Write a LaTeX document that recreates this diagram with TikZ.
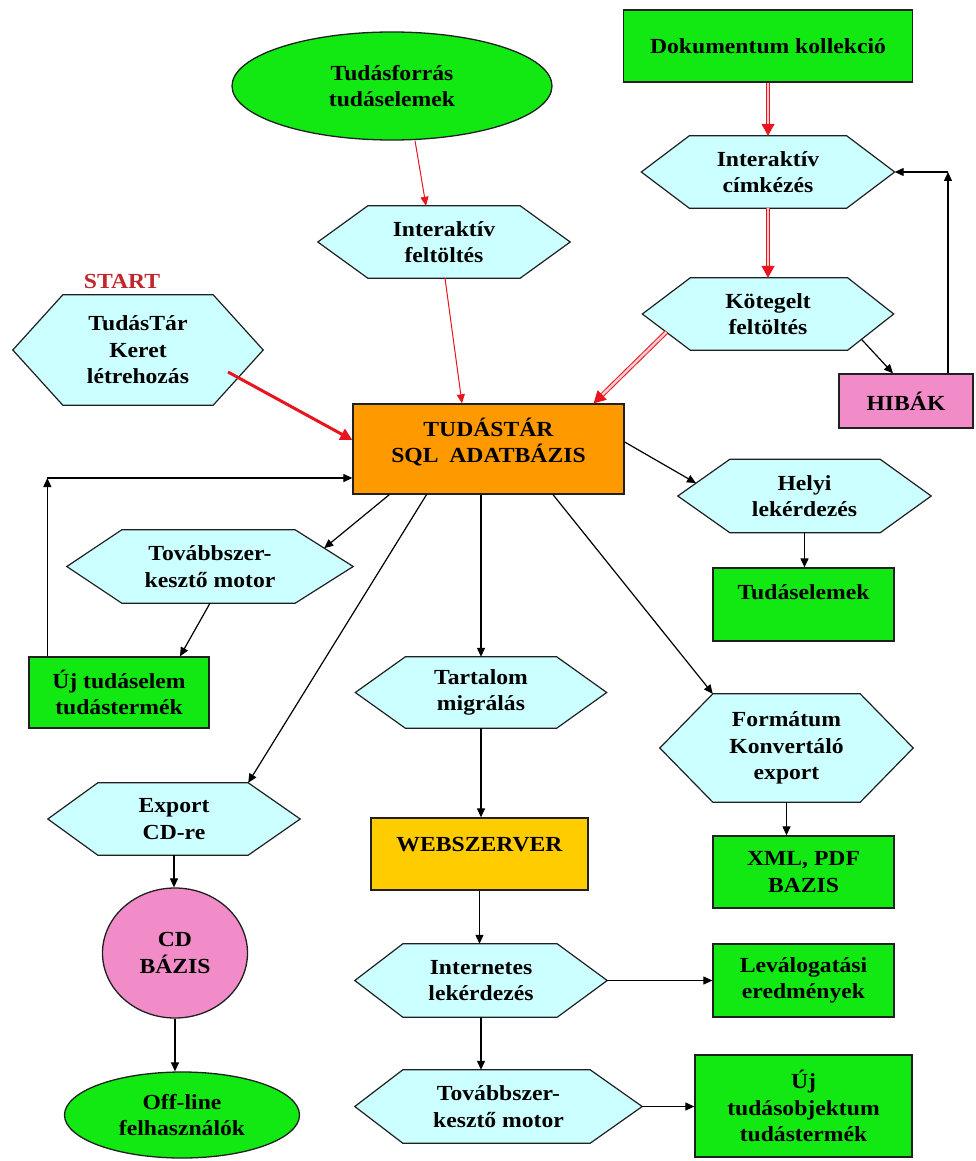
\documentclass[tikz,border=0pt]{standalone}
\usepackage{fontspec}
\setmainfont{Liberation Serif}[FakeStretch=1.1]
\usetikzlibrary{arrows.meta,shapes.geometric,calc,backgrounds}

\definecolor{hexfill}{HTML}{CCFFFF}
\definecolor{boxgreen}{HTML}{12E812}
\definecolor{dborange}{HTML}{FF9900}
\definecolor{webgold}{HTML}{FFCC00}
\definecolor{errpink}{HTML}{F28CC8}
\definecolor{flowred}{HTML}{E8141E}
\definecolor{startred}{HTML}{C0262C}
\definecolor{edgegray}{HTML}{202020}

\tikzset{
  lbl/.style={font=\bfseries\fontsize{21.5}{26.5}\selectfont, align=center, inner sep=0pt, text=black},
  hextext/.style={lbl, rectangle},
  hexshape/.style={draw=edgegray, line width=1.2pt, fill=hexfill, line join=miter},
  box/.style={lbl, rectangle, draw=edgegray, line width=1.3pt},
  oval/.style={lbl, ellipse, draw=edgegray, line width=1.3pt},
  flow/.style={draw=black, line width=1.2pt, -{Triangle[length=9pt,width=8pt]}},
  redthin/.style={draw=flowred, line width=1pt, -{Triangle[length=9pt,width=8pt]}},
  redthick/.style={draw=flowred, line width=3pt, -{Triangle[length=12pt,width=12pt]}},
  reddouble/.style={draw=flowred, double=flowred!22, double distance=2.5pt, line width=1pt, -{Triangle[length=12pt,width=13pt]}},
}

% hexagonal process step: name, x, y, width, height, left inset, right inset, text
\newcommand\hexnode[8]{%
  \node[hextext, minimum width=#4pt, minimum height=#5pt] (#1) at (#2,#3) {#8};
  \coordinate (#1-nw) at ([xshift=#6pt]#1.north west);
  \coordinate (#1-sw) at ([xshift=#6pt]#1.south west);
  \coordinate (#1-ne) at ([xshift=-#7pt]#1.north east);
  \coordinate (#1-se) at ([xshift=-#7pt]#1.south east);
  \begin{scope}[on background layer]
    \draw[hexshape] (#1-nw) -- (#1-ne) -- (#1.east) -- (#1-se) -- (#1-sw) -- (#1.west) -- cycle;
  \end{scope}
}

\begin{document}
\begin{tikzpicture}[x=1pt, y=-1pt]
\begin{scope}[on background layer]
  \path[fill=white] (0,0) rectangle (976,1161);
\end{scope}
\useasboundingbox (0,0) rectangle (976,1161);

% ---- sources ----
\node[oval, fill=boxgreen, minimum width=320pt, minimum height=108pt] (src) at (392,86) {Tudásforrás\\tudáselemek};
\node[box, fill=boxgreen, minimum width=289pt, minimum height=72pt] (doc) at (768,46) {Dokumentum kollekció};
\hexnode{cimke}{768}{172}{253}{72}{48}{48}{Interaktív\\címkézés}
\hexnode{intfel}{444}{242}{252}{72}{50}{50}{Interaktív\\feltöltés}
\hexnode{koteg}{768}{314}{251}{72}{48}{46}{Kötegelt\\feltöltés}
\node[box, fill=errpink, minimum width=134pt, minimum height=54pt] (hibak) at (906,401) {HIBÁK};

\node[lbl, text=startred] (start) at (122,281) {START};
\hexnode{tt}{138}{350}{250}{110}{50}{50}{TudásTár\\Keret\\létrehozás}

% ---- central database ----
\node[box, fill=dborange, minimum width=271pt, minimum height=90pt] (db) at (488.5,449) {};
\node[lbl] (dbtext) at (488.5,442) {TUDÁSTÁR\\SQL\enspace ADATBÁZIS};

% ---- right branch ----
\hexnode{helyi}{804.5}{496}{253}{73}{52}{51}{Helyi\\lekérdezés}
\node[box, fill=boxgreen, minimum width=181pt, minimum height=73pt] (tudel) at (803.5,604.5) {};
\node[lbl] (tudeltext) at (803.5,592) {Tudáselemek};
\hexnode{format}{786.5}{748}{253}{108}{53}{53}{Formátum\\Konvertáló\\export}
\node[box, fill=boxgreen, minimum width=181pt, minimum height=72pt] (xml) at (803.5,872) {XML, PDF\\BAZIS};

% ---- left branch ----
\hexnode{tovabb1}{210}{566.5}{286}{73}{55}{58}{Továbbszer-\\kesztő motor}
\node[box, fill=boxgreen, minimum width=180pt, minimum height=71pt] (ujte) at (119,692.5) {Új tudáselem\\tudástermék};
\hexnode{export}{174}{819}{252}{72}{50}{52}{Export\\CD-re}
\node[oval, fill=errpink, minimum width=145pt, minimum height=130pt] (cd) at (175,953) {CD\\BÁZIS};
\node[oval, fill=boxgreen, minimum width=235pt, minimum height=86pt] (offline) at (182,1115) {Off-line\\felhasználók};

% ---- web branch ----
\hexnode{tartalom}{481}{692.5}{251}{71}{50}{50}{Tartalom\\migrálás}
\node[box, fill=webgold, minimum width=217pt, minimum height=72pt] (web) at (479.5,854) {};
\node[lbl] (webtext) at (479.5,845) {WEBSZERVER};
\hexnode{inet}{481}{980.5}{252}{73}{48}{50}{Internetes\\lekérdezés}
\node[box, fill=boxgreen, minimum width=181pt, minimum height=73pt] (lev) at (803.5,980.5) {Leválogatási\\eredmények};
\hexnode{tovabb2}{498.5}{1106.5}{287}{73}{48}{52}{Továbbszer-\\kesztő motor}
\node[box, fill=boxgreen, minimum width=217pt, minimum height=102pt] (ujto) at (803.5,1106) {Új\\tudásobjektum\\tudástermék};

% ---- helper points for bent and offset connectors ----
\coordinate (fbcorner) at ($(hibak.north)+(42,0)$);
\coordinate (fbtop) at (fbcorner |- cimke.east);
\coordinate (dbin) at ($(db.west)+(0,29)$);
\coordinate (ujtop) at ($(ujte.north west)+(19,0)$);
\coordinate (lpcorner) at (ujtop |- dbin);

% ---- red input flows ----
\draw[redthin] ($(src.south)+(23,0)$) -- ($(intfel.north)+(-18,0)$);
\draw[redthin] ($(intfel.south)+(1,0)$) -- ($(db.north)+(-26.5,0)$);
\draw[reddouble] (doc.south) -- (cimke.north);
\draw[reddouble] (cimke.south) -- (koteg.north);
\draw[reddouble] ($(koteg-sw)!0.5!(koteg.west)$) -- ($(db.north east)+(-31,0)$);
\draw[redthick] ($(tt.center)+(90,22)$) -- ($(db.west)+(0,-9)$);

% ---- error feedback ----
\draw[flow] ($(koteg-se)!0.3!(koteg.east)$) -- ($(hibak.north)+(-13,0)$);
\draw[flow] (fbcorner) -- (fbtop);
\draw[flow] (fbtop) -- (cimke.east);

% ---- outputs of the database ----
\draw[flow] ($(db.east)+(0,-7)$) -- ($(helyi.west)!0.35!(helyi-nw)$);
\draw[flow] (helyi.south) -- (helyi.south |- tudel.north);
\draw[flow] ($(db.south)+(64.5,0)$) -- (format-nw);
\draw[flow] (format.south) -- (format.south |- xml.north);

\draw[flow] ($(db.south west)+(37,0)$) -- ($(tovabb1.east)!0.5!(tovabb1-ne)$);
\draw[flow] (tovabb1.south) -- ($(ujte.north)+(61,0)$);
\draw[flow] (ujtop) -- (lpcorner);
\draw[flow] (lpcorner) -- (dbin);

\draw[flow] ($(db.south)+(-62,0)$) -- (export-ne);
\draw[flow] (export.south) -- (export.south |- cd.north);
\draw[flow] (cd.south) -- (cd.south |- offline.north);

\draw[flow] (tartalom.north |- db.south) -- (tartalom.north);
\draw[flow] (tartalom.south) -- (tartalom.south |- web.north);
\draw[flow] (web.south) -- (web.south |- inet.north);
\draw[flow] (inet.south) -- (inet.south |- tovabb2.north);
\draw[flow] (inet.east) -- (inet.east -| lev.west);
\draw[flow] (tovabb2.east) -- (tovabb2.east -| ujto.west);
\end{tikzpicture}
\end{document}
